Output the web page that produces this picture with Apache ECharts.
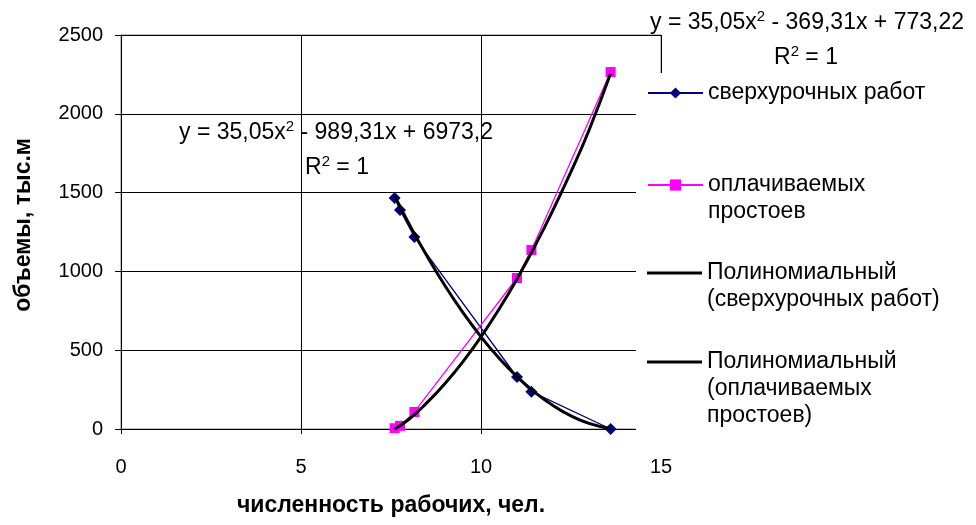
<!DOCTYPE html>
<html>
<head>
<meta charset="utf-8">
<script src="https://cdn.jsdelivr.net/npm/echarts@6/dist/echarts.min.js"></script>
<style>html,body{margin:0;padding:0;background:#fff;}#c{width:976px;height:525px;}</style>
</head>
<body>
<div id="c"></div>
<script>
// ---- data ----
const workers = [7.6, 7.75, 8.15, 11.0, 11.4, 13.6];
const overtime = [1466, 1390, 1218, 330, 237, 0];
const idle = [5, 20, 108, 958, 1136, 2265];
const trendX = [7.6, 8, 8.5, 9, 9.5, 10, 10.5, 11, 11.5, 12, 12.5, 13, 13.6];
const trendOvertime = [1479, 1302, 1097, 909, 738, 585, 450, 332, 232, 149, 83, 36, 2];
const trendIdle = [0, 62, 167, 289, 428, 585, 760, 952, 1162, 1389, 1633, 1896, 2255];
const seriesNames = ['сверхурочных работ', 'оплачиваемых\nпростоев', 'Полиномиальный\n(сверхурочных работ)', 'Полиномиальный\n(оплачиваемых\nпростоев)'];
// equation text parts: [before superscript, superscript, after superscript]
const eqOvertime = ['y = 35,05x', '2', ' - 989,31x + 6973,2'];
const eqIdle = ['y = 35,05x', '2', ' - 369,31x + 773,22'];
const r2Text = ['R', '2', ' = 1'];
const xTitle = 'численность рабочих, чел.';
const yTitle = 'объемы, тыс.м';

const FONT = 'Liberation Sans, Arial, sans-serif';
const FS = 20;   // tick labels
const FT = 23;   // legend, equations
const FB = 23;   // axis titles (bold)
const LH = 27;
const legendIconY = [93, 185, 273, 362];
const legendIsTrend = [false, false, true, true];

function pairs(xs, ys) { return xs.map((x, i) => [x, ys[i]]); }
function richParts(p) { return '{m|' + p[0] + '}{s|' + p[1] + '}{m|' + p[2] + '}'; }
const richStyle = {
  m: {fontSize: FT, fontFamily: FONT, fill: '#000', lineHeight: LH},
  s: {fontSize: 15, fontFamily: FONT, fill: '#000', lineHeight: LH, verticalAlign: 'top'}
};
function eqText(x, y, parts) {
  return {type: 'text', z: 6, x: x, y: y, style: {text: richParts(parts), rich: richStyle, fill: '#000', align: 'center', verticalAlign: 'middle'}};
}

const legends = seriesNames.map((name, i) => {
  const n = name.split('\n').length;
  const trend = legendIsTrend[i];
  const ih = trend ? 3 : 14;
  return {
    data: [trend ? {name: name, icon: 'rect'} : name],
    orient: 'vertical',
    left: 647,
    top: legendIconY[i] - (2 * n - 1) * LH / 2,
    padding: 0,
    itemWidth: 55,
    itemHeight: ih,
    itemGap: 0,
    selectedMode: false,
    z: 5,
    formatter: function (nm) { return ' \n'.repeat(n - 1) + nm; },
    textStyle: {fontFamily: FONT, fontSize: FT, color: '#000', lineHeight: LH}
  };
});

const chart = echarts.init(document.getElementById('c'), null, {renderer: 'canvas'});
chart.setOption({
  animation: false,
  backgroundColor: '#fff',
  grid: {left: 121, top: 35, width: 540, height: 394, show: true, borderColor: '#808080', borderWidth: 1, backgroundColor: 'transparent'},
  legend: legends,
  xAxis: {
    type: 'value', min: 0, max: 15, interval: 5,
    name: xTitle, nameLocation: 'middle', nameGap: 65,
    nameTextStyle: {fontFamily: FONT, fontSize: FB, fontWeight: 'bold', color: '#000'},
    axisLine: {show: true, onZero: false, lineStyle: {color: '#000', width: 1}},
    axisTick: {show: true, length: 5, lineStyle: {color: '#000'}},
    axisLabel: {margin: 28, fontFamily: FONT, fontSize: FS, color: '#000'},
    splitLine: {show: true, lineStyle: {color: '#000', width: 1}}
  },
  yAxis: {
    type: 'value', min: 0, max: 2500, interval: 500,
    name: yTitle, nameLocation: 'middle', nameGap: 86,
    nameTextStyle: {fontFamily: FONT, fontSize: FB, fontWeight: 'bold', color: '#000', padding: [0, 0, 0, 14]},
    axisLine: {show: true, onZero: false, lineStyle: {color: '#000', width: 1}},
    axisTick: {show: true, length: 6, lineStyle: {color: '#000'}},
    axisLabel: {margin: 18, fontFamily: FONT, fontSize: FS, color: '#000', formatter: function (v) { return String(v); }},
    splitLine: {show: true, lineStyle: {color: '#000', width: 1}}
  },
  graphic: [
    {type: 'rect', z: 3, shape: {x: 636, y: 73, width: 340, height: 372}, style: {fill: '#fff'}, silent: true},
    eqText(336, 133, eqOvertime),
    eqText(337, 168, r2Text),
    eqText(807, 23, eqIdle),
    eqText(806, 58, r2Text)
  ],
  series: [
    {name: seriesNames[0], type: 'line', data: pairs(workers, overtime), symbol: 'diamond', symbolSize: 12,
      itemStyle: {color: '#000080'}, lineStyle: {color: '#000080', width: 1.3}, z: 2},
    {name: seriesNames[1], type: 'line', data: pairs(workers, idle), symbol: 'rect', symbolSize: 10,
      itemStyle: {color: '#FF00FF'}, lineStyle: {color: '#FF00FF', width: 1.3}, z: 2},
    {name: seriesNames[2], type: 'line', data: pairs(trendX, trendOvertime), symbol: 'none', smooth: true,
      itemStyle: {color: '#000'}, lineStyle: {color: '#000', width: 3}, z: 3},
    {name: seriesNames[3], type: 'line', data: pairs(trendX, trendIdle), symbol: 'none', smooth: true,
      itemStyle: {color: '#000'}, lineStyle: {color: '#000', width: 3}, z: 3}
  ]
});
</script>
</body>
</html>
